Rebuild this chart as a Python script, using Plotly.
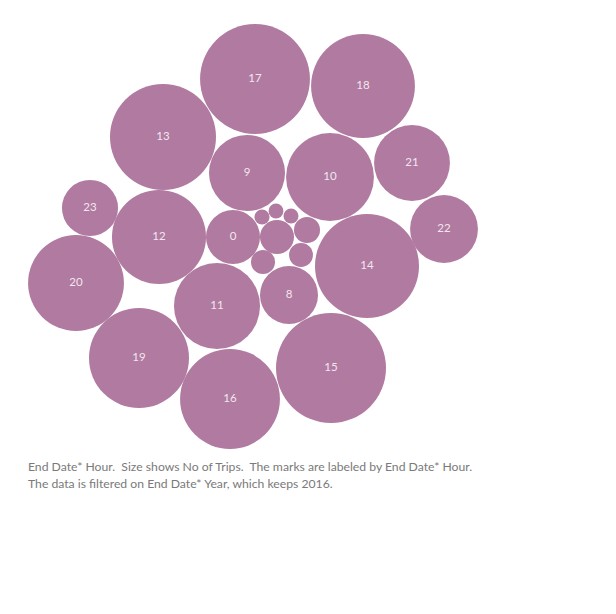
import plotly.graph_objects as go

# End Date* Hour and No of Trips (2016)
hours = [17, 18, 13, 9, 10, 21, 22, 23, 12, 0, 14, 20, 11, 8, 19, 16, 15, 7, 1, 6, 2, 3, 4, 5]
trips = [12080, 10790, 11250, 5790, 7730, 5760, 4610, 3150, 8850, 2920, 10830, 9200,
         7410, 3370, 10010, 9980, 12110, 1160, 680, 570, 580, 230, 220, 225]

# packed-bubble layout centres (Tableau's packing result, in page pixels)
pack_x = [255, 363, 163, 247, 330, 412, 444, 90, 159, 233, 367, 76, 217, 289, 139, 230, 331,
          277, 307, 301, 263, 262, 276, 291]
pack_y = [79, 86, 137, 173, 177, 163, 229, 208, 237, 237, 266, 283, 306, 295, 358, 399, 368,
          237, 230, 255, 262, 217, 211, 216]

labelled = [h >= 8 or h == 0 for h in hours]
labels = [str(h) if l else "" for h, l in zip(hours, labelled)]

max_diam = 110
sizeref = 2.0 * max(trips) / max_diam ** 2

fig = go.Figure()
fig.add_trace(go.Scatter(
    x=pack_x, y=pack_y, mode="markers+text",
    marker=dict(size=trips, sizemode="area", sizeref=sizeref, color="#B07AA1",
                line=dict(width=0), opacity=1),
    text=labels, textposition="middle center",
    textfont=dict(family="Lato, Open Sans, sans-serif", size=11.5, color="#F3E6EF"),
    hoverinfo="skip", showlegend=False,
))

caption1 = "End Date* Hour.  Size shows No of Trips.  The marks are labeled by End Date* Hour."
caption2 = "The data is filtered on End Date* Year, which keeps 2016."
for i, t in enumerate([caption1, caption2]):
    fig.add_annotation(x=26, y=466 + i * 17, xref="x", yref="y", text=t, showarrow=False,
                       xanchor="left", yanchor="middle",
                       font=dict(family="Lato, Open Sans, sans-serif", size=12.2, color="#7a7a7a"))

fig.update_layout(
    width=616, height=614, margin=dict(l=0, r=0, t=0, b=0),
    paper_bgcolor="white", plot_bgcolor="white",
    xaxis=dict(range=[0, 616], visible=False, fixedrange=True),
    yaxis=dict(range=[614, 0], visible=False, fixedrange=True),
)
fig.write_html("out.html")
